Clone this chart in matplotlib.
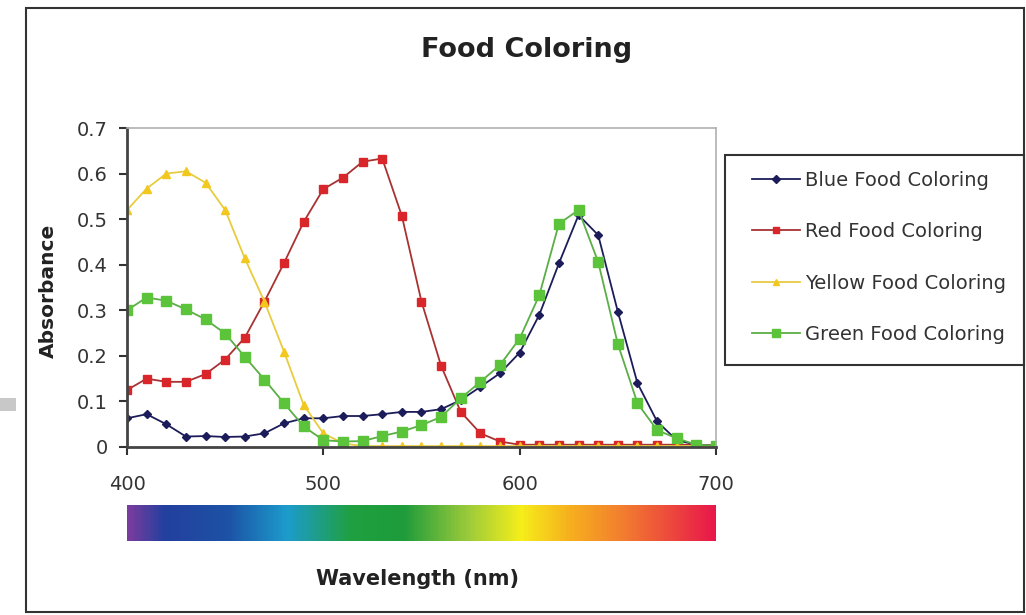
import numpy as np
import matplotlib
matplotlib.use("Agg")
import matplotlib.pyplot as plt
from matplotlib.colors import LinearSegmentedColormap
from matplotlib.patches import Rectangle

plt.rcParams['font.family'] = ['DejaVu Sans']

# Data
wavelength = list(range(400, 701, 10))

blue = [0.063, 0.072, 0.050, 0.023, 0.024, 0.022, 0.023, 0.030, 0.052, 0.063,
        0.063, 0.068, 0.068, 0.072, 0.077, 0.077, 0.083, 0.103, 0.132, 0.162,
        0.207, 0.290, 0.403, 0.509, 0.465, 0.297, 0.140, 0.056, 0.015, 0.005,
        0.003]
red = [0.125, 0.150, 0.143, 0.143, 0.160, 0.192, 0.240, 0.319, 0.404, 0.494,
       0.566, 0.591, 0.626, 0.633, 0.507, 0.319, 0.178, 0.077, 0.030, 0.012,
       0.005, 0.005, 0.005, 0.005, 0.005, 0.005, 0.005, 0.005, 0.005, 0.005,
       0.003]
yellow = [0.520, 0.567, 0.600, 0.605, 0.580, 0.520, 0.414, 0.319, 0.209, 0.092,
          0.030, 0.008, 0.002, 0.002, 0.002, 0.002, 0.002, 0.002, 0.002, 0.002,
          0.002, 0.002, 0.002, 0.002, 0.002, 0.002, 0.002, 0.002, 0.002, 0.002,
          0.002]
green = [0.300, 0.328, 0.321, 0.302, 0.280, 0.249, 0.198, 0.148, 0.096, 0.045,
         0.015, 0.012, 0.013, 0.024, 0.034, 0.048, 0.066, 0.107, 0.143, 0.180,
         0.238, 0.333, 0.490, 0.520, 0.406, 0.226, 0.096, 0.037, 0.019, 0.005,
         0.003]

labels = ["Blue Food Coloring", "Red Food Coloring",
          "Yellow Food Coloring", "Green Food Coloring"]

W, H = 1026, 615
fig = plt.figure(figsize=(W / 100, H / 100), dpi=100)

# outer chart border
fig.patches.append(Rectangle((26 / W, 3 / H), 998 / W, 604 / H,
                             transform=fig.transFigure, fill=False,
                             edgecolor='#333333', linewidth=1.5))
# small grey mark at left edge
fig.patches.append(Rectangle((0, 1 - 411 / H), 16 / W, 13 / H,
                             transform=fig.transFigure, facecolor='#c8c8c8',
                             edgecolor='none'))
# legend box
fig.patches.append(Rectangle((725 / W, 1 - 365 / H), 299 / W, 210 / H,
                             transform=fig.transFigure, fill=False,
                             edgecolor='#333333', linewidth=1.5))

ax = fig.add_axes([127 / W, 1 - 447 / H, 589 / W, 319 / H])

ax.plot(wavelength, blue, color='#1c1c5a', marker='D', markersize=4.5,
        linewidth=1.3, label=labels[0])
ax.plot(wavelength, red, color='#a83232', marker='s', markersize=6,
        markerfacecolor='#d8262a', markeredgecolor='#d8262a',
        linewidth=1.3, label=labels[1])
ax.plot(wavelength, yellow, color='#e8cc40', marker='^', markersize=6,
        markerfacecolor='#f2c81e', markeredgecolor='#f2c81e',
        linewidth=1.3, label=labels[2])
ax.plot(wavelength, green, color='#5aae46', marker='s', markersize=7,
        markerfacecolor='#5cc43a', markeredgecolor='#5cc43a',
        linewidth=1.3, label=labels[3])

ax.set_xlim(400, 700)
ax.set_ylim(0, 0.7)
ax.set_xticks([400, 500, 600, 700])
ax.set_yticks(np.arange(0, 0.71, 0.1))
ax.set_yticklabels(['0', '0.1', '0.2', '0.3', '0.4', '0.5', '0.6', '0.7'])
ax.tick_params(axis='both', labelsize=14, colors='#333333', length=6,
               width=1.5, direction='out')
ax.tick_params(axis='y', pad=8)
ax.tick_params(axis='x', pad=14)
for s in ['left', 'bottom']:
    ax.spines[s].set_color('#444444')
    ax.spines[s].set_linewidth(2)
for s in ['top', 'right']:
    ax.spines[s].set_color('#b0b0b0')
    ax.spines[s].set_linewidth(1.2)

fig.text(48 / W, 1 - 291 / H, "Absorbance", rotation=90, ha='center',
         va='center', fontsize=14.5, fontweight='bold', color='#222222')

fig.text(527 / W, 1 - 57 / H, "Food Coloring", ha='center', va='baseline',
         fontsize=19.5, fontweight='bold', color='#222222')

leg = ax.legend(loc='upper left', bbox_to_anchor=(752 / W, 1 - 171 / H),
                bbox_transform=fig.transFigure, fontsize=14, frameon=False,
                labelspacing=1.66, handlelength=2.47, handletextpad=0.26,
                borderpad=0, borderaxespad=0, markerscale=0.8)
for t in leg.get_texts():
    t.set_color('#333333')

# spectrum bar under the plot
spec = LinearSegmentedColormap.from_list('spec', [
    (0.00, '#7a3c9e'), (0.06, '#23409e'), (0.17, '#1d52a6'),
    (0.27, '#1c9ccc'), (0.38, '#20a040'), (0.47, '#1e9c3c'),
    (0.58, '#9ccb3a'), (0.67, '#f6ee1a'), (0.75, '#f7b21e'),
    (0.85, '#f27a30'), (1.00, '#e8184a')])
sax = fig.add_axes([127 / W, 1 - 541 / H, 589 / W, 36 / H])
sax.imshow(np.linspace(0, 1, 400).reshape(1, -1), aspect='auto', cmap=spec,
           extent=[400, 700, 0, 1])
sax.set_axis_off()

fig.text(417 / W, 1 - 585 / H, "Wavelength (nm)", ha='center',
         va='baseline', fontsize=15, fontweight='bold', color='#222222')

fig.savefig("out.png", dpi=100)
